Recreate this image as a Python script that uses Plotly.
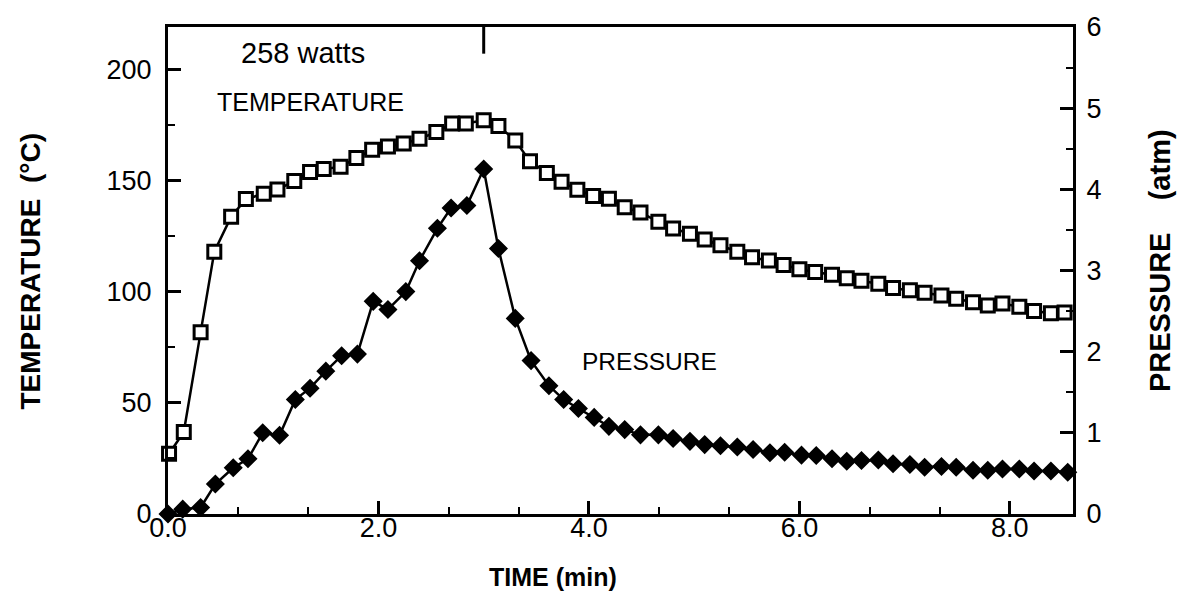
import plotly.graph_objects as go

# ---- data ----
time_temp = [0.01, 0.15, 0.31, 0.44, 0.60, 0.74, 0.91, 1.04, 1.20, 1.35,
             1.48, 1.64, 1.79, 1.94, 2.09, 2.24, 2.39, 2.55, 2.70, 2.83,
             3.00, 3.14, 3.30, 3.44, 3.60, 3.74, 3.89, 4.04, 4.19, 4.34,
             4.49, 4.66, 4.80, 4.96, 5.10, 5.25, 5.41, 5.55, 5.71, 5.85,
             6.00, 6.15, 6.31, 6.45, 6.59, 6.75, 6.89, 7.05, 7.19, 7.35,
             7.49, 7.65, 7.79, 7.93, 8.09, 8.23, 8.39, 8.52]
temperature = [27.1, 36.9, 81.8, 118.1, 133.9, 141.8, 144.2, 146.1, 149.9, 154.0,
               155.3, 156.4, 160.3, 164.0, 165.5, 166.8, 169.0, 172.0, 175.8, 175.8,
               177.3, 174.7, 168.2, 158.8, 153.6, 149.6, 146.0, 143.2, 142.0, 138.1,
               135.8, 131.6, 128.6, 126.2, 123.6, 121.0, 118.1, 115.6, 114.1, 112.1,
               110.2, 109.0, 107.7, 106.2, 105.0, 103.7, 101.8, 100.8, 99.6, 98.4,
               96.9, 95.4, 93.9, 94.8, 93.3, 91.4, 90.4, 90.7]

time_pres = [0.00, 0.14, 0.31, 0.45, 0.62, 0.76, 0.90, 1.06, 1.21, 1.35,
             1.50, 1.65, 1.80, 1.95, 2.09, 2.26, 2.39, 2.56, 2.69, 2.84,
             3.00, 3.14, 3.30, 3.45, 3.62, 3.76, 3.90, 4.05, 4.19, 4.34,
             4.49, 4.66, 4.80, 4.96, 5.10, 5.25, 5.41, 5.56, 5.72, 5.86,
             6.02, 6.16, 6.31, 6.45, 6.59, 6.75, 6.89, 7.05, 7.19, 7.35,
             7.49, 7.65, 7.79, 7.93, 8.09, 8.23, 8.39, 8.55]
pressure = [0.0, 0.06, 0.08, 0.37, 0.57, 0.68, 1.00, 0.97, 1.41, 1.55,
            1.76, 1.95, 1.97, 2.62, 2.52, 2.74, 3.12, 3.52, 3.77, 3.80,
            4.25, 3.27, 2.41, 1.89, 1.58, 1.41, 1.30, 1.19, 1.08, 1.04,
            0.975, 0.975, 0.93, 0.895, 0.855, 0.84, 0.825, 0.795, 0.755, 0.76,
            0.725, 0.72, 0.68, 0.65, 0.66, 0.665, 0.62, 0.61, 0.575, 0.585,
            0.575, 0.54, 0.54, 0.555, 0.555, 0.53, 0.53, 0.515]

x_tick_vals = [0, 2, 4, 6, 8]
x_tick_text = ["0.0", "2.0", "4.0", "6.0", "8.0"]
temp_ticks = [0, 50, 100, 150, 200]
pres_ticks = [0, 1, 2, 3, 4, 5, 6]
power_off_time = 3.0

# ---- layout geometry ----
W, H = 1179, 601
L, R, T, B = 167.5, 1073, 21, 514
X_MAX = 8.6
T_MAX = 219.3
P_MAX = 6.0

def px(xp):
    return (xp - L) / (R - L)

def py(yp):
    return (B - yp) / (B - T)

FONT = "Liberation Sans, Arial, Helvetica, sans-serif"

fig = go.Figure()
fig.add_trace(go.Scatter(
    x=time_temp, y=temperature, mode="lines+markers",
    line=dict(color="black", width=2.5),
    marker=dict(symbol="square", size=13, color="white",
                line=dict(color="black", width=3)),
    cliponaxis=False, showlegend=False, yaxis="y"))
fig.add_trace(go.Scatter(
    x=time_pres, y=pressure, mode="lines+markers",
    line=dict(color="black", width=2.5),
    marker=dict(symbol="diamond", size=12.5, color="black",
                line=dict(color="black", width=2)),
    cliponaxis=False, showlegend=False, yaxis="y2"))

axis_common = dict(showgrid=False, zeroline=False, showline=True,
                   linecolor="black", linewidth=3, ticks="inside",
                   tickcolor="black", tickwidth=2.5, ticklen=13)

fig.update_layout(
    width=W, height=H,
    margin=dict(l=L, r=W - R, t=T, b=H - B, pad=0),
    paper_bgcolor="white", plot_bgcolor="white",
    font=dict(family=FONT, color="black", size=27),
    xaxis=dict(range=[0, X_MAX], tickvals=x_tick_vals, ticktext=x_tick_text,
               mirror=True, ticklabelstandoff=-12,
               minor=dict(dtick=2/3, tick0=0, ticks="inside", ticklen=7,
                          tickwidth=2, tickcolor="black"),
               tickfont=dict(size=27), **axis_common),
    yaxis=dict(range=[0, T_MAX], tickvals=temp_ticks, mirror=True,
               ticklabelstandoff=8,
               minor=dict(dtick=25, tick0=0, ticks="inside", ticklen=7,
                          tickwidth=2, tickcolor="black"),
               tickfont=dict(size=27), **axis_common),
    yaxis2=dict(range=[0, P_MAX], tickvals=pres_ticks, overlaying="y",
                side="right", ticklabelstandoff=5,
                minor=dict(dtick=0.5, tick0=0, ticks="inside", ticklen=7,
                           tickwidth=2, tickcolor="black"),
                tickfont=dict(size=27), **axis_common),
)

# power-off marker tick on the top axis
fig.add_shape(type="line", xref="x", yref="paper",
              x0=power_off_time, x1=power_off_time,
              y0=1, y1=1 - 27 / (B - T),
              line=dict(color="black", width=3))

annos = [
    dict(text="258 watts", x=px(303), y=py(47), font=dict(family=FONT, size=29)),
    dict(text="TEMPERATURE", x=px(310), y=py(97), font=dict(family=FONT, size=25)),
    dict(text="PRESSURE", x=px(649), y=py(360), font=dict(family=FONT, size=24.5)),
    dict(text="<b>TIME (min)</b>", x=px(553), y=py(578), font=dict(family=FONT, size=25)),
    dict(text="<b>TEMPERATURE  (°C)</b>", x=px(30), y=py(268), textangle=-90,
         font=dict(family=FONT, size=28)),
    dict(text="<b>PRESSURE    (atm)</b>", x=px(1160), y=py(257), textangle=-90,
         font=dict(family=FONT, size=29)),
]
for a in annos:
    fig.add_annotation(xref="paper", yref="paper", showarrow=False,
                       xanchor="center", yanchor="middle", **a)

fig.write_html("out.html")
